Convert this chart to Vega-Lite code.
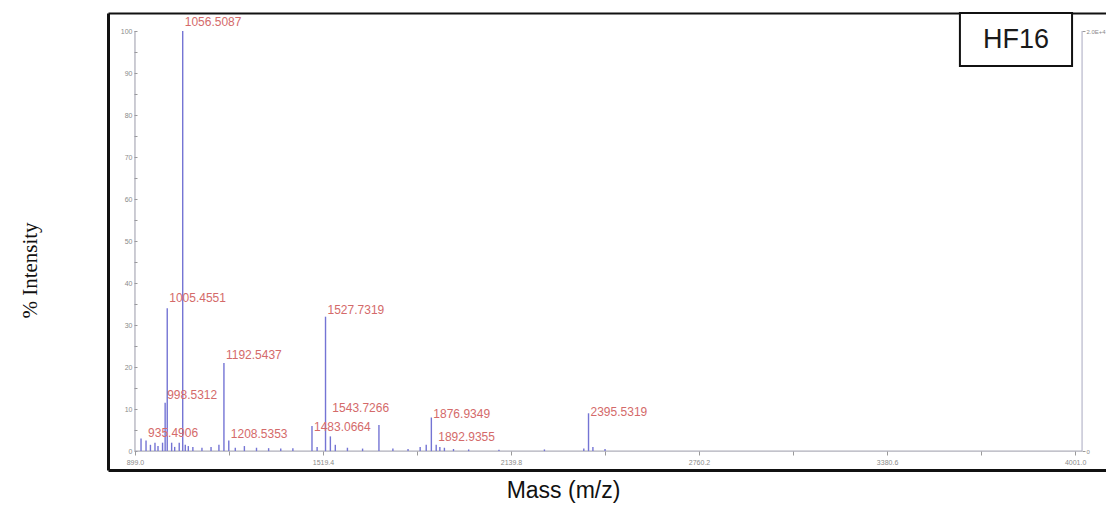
{
  "$schema": "https://vega.github.io/schema/vega-lite/v6.json",
  "width": 998,
  "height": 457,
  "autosize": {"type": "none"},
  "padding": {"left": 108, "top": 13, "right": 0, "bottom": 35},
  "background": "white",
  "config": {"view": {"stroke": null}, "font": "Liberation Sans"},
  "datasets": {
    "peaks": [
      {"mass": 919.0, "intensity": 3.0},
      {"mass": 935.4906, "intensity": 2.5, "label": "935.4906", "label_y": 4.3},
      {"mass": 950.0, "intensity": 1.5},
      {"mass": 965.0, "intensity": 2.0},
      {"mass": 975.0, "intensity": 1.2},
      {"mass": 990.0, "intensity": 2.0},
      {"mass": 998.5312, "intensity": 11.5, "label": "998.5312", "label_y": 13.3},
      {"mass": 1005.4551, "intensity": 34.0, "label": "1005.4551", "label_y": 36.4},
      {"mass": 1020.0, "intensity": 2.0},
      {"mass": 1030.0, "intensity": 1.0},
      {"mass": 1045.0, "intensity": 2.0},
      {"mass": 1056.5087, "intensity": 100.0, "label": "1056.5087", "label_y": 102.1},
      {"mass": 1065.0, "intensity": 1.5},
      {"mass": 1075.0, "intensity": 1.2},
      {"mass": 1090.0, "intensity": 1.0},
      {"mass": 1120.0, "intensity": 0.8},
      {"mass": 1150.0, "intensity": 1.0},
      {"mass": 1176.0, "intensity": 1.5},
      {"mass": 1192.5437, "intensity": 21.0, "label": "1192.5437", "label_y": 22.9},
      {"mass": 1208.5353, "intensity": 2.5, "label": "1208.5353", "label_y": 4.0},
      {"mass": 1230.0, "intensity": 0.8},
      {"mass": 1260.0, "intensity": 1.2},
      {"mass": 1300.0, "intensity": 0.8},
      {"mass": 1340.0, "intensity": 0.7},
      {"mass": 1380.0, "intensity": 0.6},
      {"mass": 1420.0, "intensity": 0.7},
      {"mass": 1483.0664, "intensity": 6.0, "label": "1483.0664", "label_y": 5.7},
      {"mass": 1500.0, "intensity": 1.0},
      {"mass": 1527.7319, "intensity": 32.0, "label": "1527.7319", "label_y": 33.6},
      {"mass": 1543.7266, "intensity": 3.5, "label": "1543.7266", "label_y": 10.2},
      {"mass": 1560.0, "intensity": 1.5},
      {"mass": 1600.0, "intensity": 0.8},
      {"mass": 1650.0, "intensity": 0.6},
      {"mass": 1704.0, "intensity": 6.2},
      {"mass": 1750.0, "intensity": 0.6},
      {"mass": 1800.0, "intensity": 0.5},
      {"mass": 1840.0, "intensity": 1.0},
      {"mass": 1860.0, "intensity": 1.5},
      {"mass": 1876.9349, "intensity": 8.0, "label": "1876.9349", "label_y": 8.8},
      {"mass": 1892.9355, "intensity": 1.5, "label": "1892.9355", "label_y": 3.3},
      {"mass": 1905.0, "intensity": 1.0},
      {"mass": 1920.0, "intensity": 0.8},
      {"mass": 1950.0, "intensity": 0.5},
      {"mass": 2000.0, "intensity": 0.4},
      {"mass": 2100.0, "intensity": 0.3},
      {"mass": 2250.0, "intensity": 0.4},
      {"mass": 2380.0, "intensity": 0.6},
      {"mass": 2395.5319, "intensity": 9.0, "label": "2395.5319", "label_y": 9.3},
      {"mass": 2410.0, "intensity": 1.0},
      {"mass": 2450.0, "intensity": 0.5}
    ],
    "tag": [{"name": "HF16"}],
    "one": [{}]
  },
  "resolve": {"axis": {"x": "independent", "y": "independent"}},
  "layer": [
    {
      "data": {"name": "one"},
      "mark": {"type": "rule", "color": "#9a9aa8", "strokeWidth": 1},
      "encoding": {
        "x": {"datum": 899, "type": "quantitative",
          "scale": {"domain": [810, 4103], "nice": false, "zero": false},
          "axis": {"orient": "top", "offset": 0, "domain": true, "domainColor": "#111111", "domainWidth": 2,
            "ticks": false, "labels": false, "grid": false, "title": null}},
        "x2": {"datum": 4024},
        "y": {"datum": 0, "type": "quantitative",
          "scale": {"domain": [-4.5, 104.3], "nice": false, "zero": false}, "axis": null}
      }
    },
    {
      "data": {"name": "one"},
      "mark": {"type": "rule", "color": "#9a9aa8", "strokeWidth": 1},
      "encoding": {
        "x": {"datum": 899, "type": "quantitative",
          "scale": {"domain": [810, 4103], "nice": false, "zero": false}, "axis": null},
        "y": {"datum": 0, "type": "quantitative",
          "scale": {"domain": [-4.5, 104.3], "nice": false, "zero": false}, "axis": null},
        "y2": {"datum": 100}
      }
    },
    {
      "data": {"name": "one"},
      "mark": {"type": "rule", "color": "#a8a8c0", "strokeWidth": 1},
      "encoding": {
        "x": {"datum": 4024, "type": "quantitative",
          "scale": {"domain": [810, 4103], "nice": false, "zero": false}, "axis": null},
        "y": {"datum": 0, "type": "quantitative",
          "scale": {"domain": [-4.5, 104.3], "nice": false, "zero": false},
          "axis": {"orient": "right", "offset": -24, "domain": false, "grid": false,
            "values": [0, 100], "labelExpr": "datum.value == 100 ? '2.0E+4' : '0'",
            "tickSize": 3, "tickColor": "#9a9a9a", "labelFontSize": 6, "labelColor": "#8a8a8a",
            "labelPadding": 1, "title": null}},
        "y2": {"datum": 100}
      }
    },
    {
      "data": {"name": "peaks"},
      "mark": {"type": "rule", "color": "#7474d4", "strokeWidth": 1.4},
      "encoding": {
        "x": {"field": "mass", "type": "quantitative",
          "scale": {"domain": [810, 4103], "nice": false, "zero": false},
          "axis": {"orient": "bottom", "offset": -19, "domain": false, "grid": false,
            "values": [899, 1209.2, 1519.4, 1829.6, 2139.8, 2450, 2760.2, 3070.4, 3380.6, 3690.8, 4001],
            "labelExpr": "abs((datum.value-899)/620.4 - round((datum.value-899)/620.4)) < 0.01 ? format(datum.value, '.1f') : ''",
            "tickSize": 4, "tickColor": "#9a9a9a", "labelFontSize": 7, "labelColor": "#8a8a8a",
            "labelPadding": 3, "title": null}},
        "y": {"field": "intensity", "type": "quantitative",
          "scale": {"domain": [-4.5, 104.3], "nice": false, "zero": false},
          "axis": {"orient": "left", "offset": -29, "domain": false, "grid": false,
            "values": [0, 5, 10, 15, 20, 25, 30, 35, 40, 45, 50, 55, 60, 65, 70, 75, 80, 85, 90, 95, 100],
            "labelExpr": "datum.value % 10 == 0 ? format(datum.value, 'd') : ''",
            "tickSize": 3, "tickColor": "#9a9a9a", "labelFontSize": 7, "labelColor": "#8a8a8a",
            "labelPadding": 2, "title": null}},
        "y2": {"datum": 0}
      }
    },
    {
      "data": {"name": "peaks"},
      "transform": [{"filter": "datum.label != null"}],
      "mark": {"type": "text", "align": "left", "baseline": "middle", "dx": 2, "fontSize": 12, "color": "#d46a6a", "font": "Liberation Sans"},
      "encoding": {
        "x": {"field": "mass", "type": "quantitative",
          "scale": {"domain": [810, 4103], "nice": false, "zero": false},
          "axis": {"orient": "bottom", "offset": 0, "domain": true, "domainColor": "#111111", "domainWidth": 3,
            "ticks": false, "labels": false, "grid": false,
            "title": "Mass (m/z)", "titleFont": "Liberation Sans", "titleFontSize": 23, "titleFontWeight": "normal",
            "titleColor": "#111111", "titlePadding": 9, "titleX": 455}},
        "y": {"field": "label_y", "type": "quantitative",
          "scale": {"domain": [-4.5, 104.3], "nice": false, "zero": false},
          "axis": {"orient": "left", "offset": 0, "domain": true, "domainColor": "#111111", "domainWidth": 3,
            "ticks": false, "labels": false, "grid": false,
            "title": "% Intensity", "titleFont": "Liberation Serif", "titleFontSize": 21, "titleFontWeight": "normal",
            "titleColor": "#111111", "titlePadding": 68, "titleY": 257}},
        "text": {"field": "label"}
      }
    },
    {
      "data": {"name": "tag"},
      "mark": {"type": "rect", "fill": "white", "stroke": "#111111", "strokeWidth": 2},
      "encoding": {
        "x": {"datum": 3621, "type": "quantitative",
          "scale": {"domain": [810, 4103], "nice": false, "zero": false}, "axis": null},
        "x2": {"datum": 3991},
        "y": {"datum": 91.7, "type": "quantitative",
          "scale": {"domain": [-4.5, 104.3], "nice": false, "zero": false}, "axis": null},
        "y2": {"datum": 104.3}
      }
    },
    {
      "data": {"name": "tag"},
      "mark": {"type": "text", "align": "center", "baseline": "middle", "fontSize": 27, "font": "Liberation Sans", "color": "#1a1a1a"},
      "encoding": {
        "x": {"datum": 3806, "type": "quantitative",
          "scale": {"domain": [810, 4103], "nice": false, "zero": false}, "axis": null},
        "y": {"datum": 97.8, "type": "quantitative",
          "scale": {"domain": [-4.5, 104.3], "nice": false, "zero": false}, "axis": null},
        "text": {"field": "name"}
      }
    }
  ]
}
